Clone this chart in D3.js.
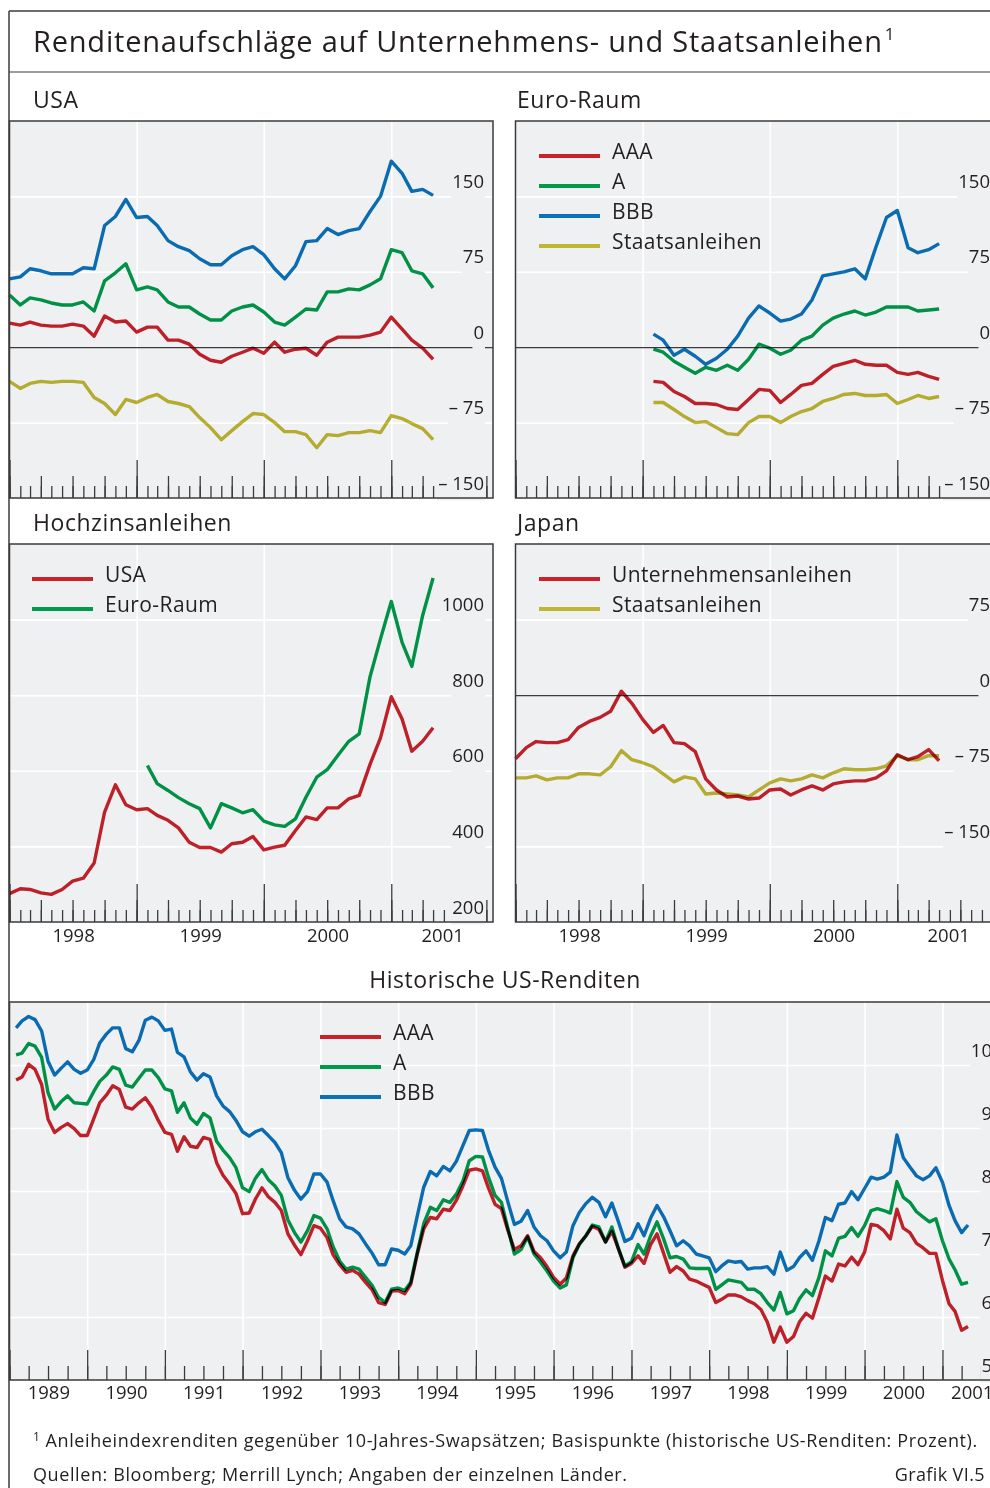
<!DOCTYPE html>
<html><head><meta charset="utf-8">
<script src="https://cdn.jsdelivr.net/npm/d3@7"></script>
<style>
body{margin:0;background:#fff;}
svg{display:block;}
text{font-family:"Open Sans","Noto Sans",sans-serif;fill:#231f20;}
</style></head><body>
<svg id="c" width="990" height="1488"></svg>
<script>
// ---------------- DATA ----------------
// Top panels: monthly, Jan 1998 – May 2001 (basis points)
const usaAAA = [24,22,25,22,21,21,23,21,11,31,25,26,15,20,20,7,7,3,-7,-13,-15,-9,-5,-1,-6,5,-5,-2,-1,-8,5,10,10,10,12,15,30,18,7,-1,-12];
const usaA   = [52,42,49,47,44,42,42,45,36,66,74,83,57,60,57,45,40,40,33,27,27,36,40,42,35,25,22,30,38,37,55,55,58,57,62,68,97,94,76,73,59];
const usaBBB = [68,70,78,76,73,73,73,79,78,121,130,147,129,130,121,106,100,96,88,82,82,91,97,100,92,78,68,81,105,106,118,112,116,118,135,150,185,173,155,157,151];
const usaGov = [-34,-41,-36,-34,-35,-34,-34,-35,-50,-56,-67,-52,-55,-50,-47,-54,-56,-59,-70,-80,-92,-83,-74,-66,-67,-75,-84,-84,-87,-100,-87,-88,-85,-85,-83,-85,-68,-71,-76,-81,-92];
// Euro area: Feb 1999 – May 2001
const euroAAA = [-34,-35,-44,-49,-56,-56,-57,-61,-62,-52,-42,-43,-55,-47,-38,-36,-27,-19,-16,-13,-17,-18,-18,-25,-27,-25,-29,-32];
const euroA   = [-2,-5,-14,-20,-26,-20,-23,-18,-23,-12,3,-1,-7,-3,7,11,22,29,33,36,32,35,40,40,40,36,37,38];
const euroBBB = [13,7,-8,-2,-9,-17,-11,-2,11,29,41,34,26,28,33,47,71,73,75,78,68,100,129,136,99,94,97,103];
const euroGov = [-55,-55,-62,-69,-75,-74,-80,-86,-87,-75,-69,-69,-75,-69,-64,-61,-54,-51,-47,-46,-48,-48,-47,-56,-52,-48,-51,-49];
// High yield: USA Jan 1998 – May 2001, Euro area Feb 1999 – May 2001
const hyUSA  = [275,288,286,277,273,286,308,316,356,491,563,510,497,500,482,469,449,411,397,397,385,407,411,426,391,398,403,442,478,471,502,502,526,535,617,687,796,737,652,678,714];
const hyEuro = [614,566,548,529,513,500,449,513,502,489,497,467,457,453,473,530,583,603,641,678,698,849,949,1048,940,876,1011,1110];
// Japan: Jan 1998 – May 2001
const jpCorp = [-63,-52,-46,-47,-47,-44,-32,-26,-22,-16,4,-8,-24,-37,-30,-47,-48,-56,-83,-94,-101,-100,-103,-102,-94,-93,-99,-94,-90,-94,-88,-86,-85,-85,-82,-75,-59,-64,-61,-54,-65];
const jpGov  = [-82,-82,-80,-84,-82,-82,-78,-78,-79,-71,-55,-64,-67,-71,-78,-86,-81,-83,-98,-97,-98,-99,-101,-94,-87,-83,-85,-83,-79,-82,-77,-73,-74,-74,-73,-70,-60,-64,-64,-60,-60];
// Historical US yields (percent), monthly Feb 1989 – May 2001
const histAAA = [9.76,9.81,10.01,9.93,9.69,9.14,8.93,9.01,9.07,8.99,8.88,
 8.88,9.15,9.40,9.52,9.67,9.61,9.33,9.30,9.40,9.48,9.33,9.12,
 8.93,8.90,8.63,8.86,8.71,8.69,8.85,8.82,8.45,8.25,8.11,7.96,
 7.64,7.65,7.87,8.05,7.91,7.82,7.69,7.32,7.14,6.99,7.21,7.45,
 7.41,7.26,6.99,6.83,6.71,6.74,6.68,6.55,6.43,6.23,6.20,6.41,
 6.42,6.37,6.52,7.00,7.40,7.58,7.56,7.71,7.69,7.85,8.08,8.33,
 8.35,8.32,8.05,7.79,7.72,7.37,7.07,7.13,7.29,7.04,6.94,6.80,
 6.63,6.52,6.62,6.97,7.16,7.29,7.44,7.39,7.19,7.36,7.08,6.79,
 6.85,6.97,6.85,7.15,7.32,7.01,6.71,6.80,6.73,6.60,6.57,6.52,
 6.47,6.23,6.28,6.35,6.35,6.32,6.26,6.21,6.12,5.92,5.60,5.84,
 5.60,5.69,5.92,6.06,5.98,6.31,6.65,6.57,6.84,6.81,6.95,6.83,
 7.03,7.47,7.45,7.37,7.24,7.71,7.41,7.34,7.17,7.10,7.01,7.01,
 6.58,6.21,6.09,5.79,5.85];
const histA = [10.16,10.19,10.34,10.30,10.12,9.56,9.30,9.42,9.51,9.40,9.39,
 9.38,9.58,9.74,9.84,9.97,9.93,9.68,9.65,9.79,9.92,9.92,9.80,
 9.62,9.59,9.25,9.40,9.16,9.06,9.23,9.16,8.79,8.65,8.53,8.37,
 8.05,7.99,8.20,8.34,8.18,8.08,7.93,7.54,7.34,7.19,7.37,7.61,
 7.57,7.40,7.12,6.89,6.76,6.79,6.76,6.63,6.50,6.31,6.23,6.44,
 6.46,6.42,6.55,7.03,7.48,7.74,7.69,7.86,7.82,7.95,8.16,8.48,
 8.55,8.54,8.22,7.93,7.82,7.40,7.00,7.07,7.27,7.00,6.87,6.73,
 6.57,6.46,6.51,6.94,7.15,7.29,7.46,7.43,7.19,7.43,7.08,6.81,
 6.88,7.15,7.00,7.29,7.51,7.24,6.94,6.96,6.92,6.78,6.77,6.77,
 6.77,6.44,6.51,6.59,6.57,6.55,6.44,6.44,6.37,6.23,6.11,6.39,
 6.05,6.10,6.29,6.43,6.34,6.63,7.05,6.97,7.25,7.28,7.42,7.28,
 7.45,7.69,7.72,7.69,7.65,8.15,7.90,7.82,7.67,7.59,7.51,7.56,
 7.21,6.92,6.75,6.52,6.55];
const histBBB = [10.59,10.70,10.77,10.72,10.54,10.06,9.84,9.95,10.05,9.93,9.87,
 9.92,10.09,10.35,10.49,10.59,10.59,10.26,10.21,10.39,10.71,10.76,10.70,
 10.55,10.57,10.20,10.13,9.89,9.76,9.86,9.81,9.51,9.35,9.26,9.12,
 8.94,8.87,8.94,8.98,8.88,8.77,8.61,8.21,8.01,7.87,7.99,8.27,
 8.27,8.14,7.85,7.56,7.43,7.40,7.32,7.16,7.01,6.83,6.83,7.08,
 7.06,7.00,7.13,7.61,8.06,8.31,8.24,8.39,8.32,8.47,8.72,8.96,
 8.97,8.96,8.65,8.38,8.20,7.82,7.47,7.52,7.69,7.43,7.29,7.21,
 7.05,6.94,7.03,7.45,7.66,7.80,7.90,7.82,7.59,7.81,7.51,7.20,
 7.25,7.48,7.29,7.57,7.77,7.59,7.37,7.13,7.21,7.13,7.00,6.97,
 6.94,6.72,6.81,6.89,6.87,6.88,6.76,6.78,6.78,6.80,6.68,7.03,
 6.74,6.80,6.94,7.05,6.90,7.21,7.58,7.53,7.79,7.81,7.99,7.86,
 8.04,8.22,8.19,8.22,8.30,8.89,8.53,8.38,8.24,8.18,8.24,8.37,
 8.14,7.77,7.53,7.34,7.46];

// tick values / labels
const spreadGrid = [-75, 0, 75, 150];
const spreadLabels = [-150, -75, 0, 75, 150];
const japanGrid = [-150, -75, 0, 75];
const japanLabels = [-150, -75, 0, 75];
const hyGrid = [400, 600, 800, 1000];
const hyLabels = [200, 400, 600, 800, 1000];
const histGrid = [6, 7, 8, 9, 10];
const histLabels = [5, 6, 7, 8, 9, 10];

const euroLegend = ["AAA", "A", "BBB", "Staatsanleihen"];
const hyLegend = ["USA", "Euro-Raum"];
const jpLegend = ["Unternehmensanleihen", "Staatsanleihen"];
const histLegend = ["AAA", "A", "BBB"];

// ---------------- STYLE ----------------
const C = {red:"#c9222b", green:"#009a4a", blue:"#0b72ba", yellow:"#bfb733",
           bg:"#eff0f2", dark:"#3b3b3d", text:"#231f20"};

const svg = d3.select("#c");
const months = (y, m, n) => d3.range(n).map(i => new Date(y, m + i, 1));
const fmtSpread = v => v < 0 ? "\u2013 " + Math.abs(v) : String(v);

// page frame
svg.append("line").attr("x1",9).attr("x2",9).attr("y1",11).attr("y2",1488).attr("stroke",C.dark).attr("stroke-width",1.5);
svg.append("line").attr("x1",9).attr("x2",990).attr("y1",11).attr("y2",11).attr("stroke",C.dark).attr("stroke-width",1.5);
svg.append("line").attr("x1",9).attr("x2",990).attr("y1",72).attr("y2",72).attr("stroke",C.dark).attr("stroke-width",1.2);

const title = svg.append("text").attr("x",33).attr("y",52).attr("font-size",29).attr("letter-spacing",0.8);
title.append("tspan").text("Renditenaufschläge auf Unternehmens- und Staatsanleihen");
title.append("tspan").attr("font-size",17).attr("dy",-12).attr("dx",2).text("1");

function panelTitle(t, x, y, anchor) {
  svg.append("text").attr("x",x).attr("y",y).attr("font-size",23).attr("letter-spacing",0.55)
    .attr("text-anchor",anchor||"start").text(t);
}
panelTitle("USA", 33, 108);
panelTitle("Euro-Raum", 517, 108);
panelTitle("Hochzinsanleihen", 33, 531);
panelTitle("Japan", 517, 531);
panelTitle("Historische US-Renditen", 505, 988, "middle");

function panel(o) {
  const g = svg.append("g");
  const x = d3.scaleTime().domain(o.xDomain).range([o.x0, o.x1]);
  const y = d3.scaleLinear().domain(o.yDomain).range([o.y1, o.y0]);
  const w = o.x1 - o.x0, h = o.y1 - o.y0;
  g.append("rect").attr("x",o.x0).attr("y",o.y0).attr("width",w).attr("height",h).attr("fill",C.bg);

  // horizontal white grid
  const gh = g.append("g").attr("transform",`translate(${o.x0},0)`)
    .call(d3.axisRight(y).tickValues(o.grid.filter(v => v !== 0)).tickSize(w).tickFormat(""));
  gh.select(".domain").remove();
  gh.selectAll("line").attr("stroke","#fff").attr("stroke-width",1.6);

  // vertical white grid at year boundaries
  const yrs = d3.timeYear.range(d3.timeYear.ceil(new Date(+o.xDomain[0] + 1)), o.xDomain[1]);
  const gv = g.append("g").attr("transform",`translate(0,${o.y1})`)
    .call(d3.axisBottom(x).tickValues(yrs).tickSize(-h).tickFormat(""));
  gv.select(".domain").remove();
  gv.selectAll("line").attr("stroke","#fff").attr("stroke-width",1.6);

  // zero line
  if (o.grid.includes(0)) {
    const gz = g.append("g").attr("transform",`translate(${o.x0},0)`)
      .call(d3.axisRight(y).tickValues([0]).tickSize(w).tickFormat(""));
    gz.select(".domain").remove();
    gz.selectAll("line").attr("stroke",C.dark).attr("stroke-width",1.3);
  }

  // ticks from the bottom upwards
  o.tickLevels.forEach(t => {
    const gt = g.append("g").attr("transform",`translate(0,${o.y1})`)
      .call(d3.axisBottom(x).ticks(t.every).tickSize(-t.size).tickFormat(""));
    gt.select(".domain").remove();
    gt.selectAll("line").attr("stroke",C.dark).attr("stroke-width",1.3);
  });

  // series
  const line = d3.line().x(d => x(d.date)).y(d => y(d.value));
  o.series.forEach(s => {
    const pts = s.values.map((v, i) => ({date: s.dates[i], value: v}));
    g.append("path").datum(pts).attr("d", line).attr("fill","none")
      .attr("stroke", s.color).attr("stroke-width",3.4)
      .attr("stroke-linejoin","round").style("mix-blend-mode","multiply");
  });

  // y labels (inside, right aligned, above grid line)
  const gl = g.append("g").attr("transform",`translate(${o.x0},0)`)
    .call(d3.axisRight(y).tickValues(o.labels).tickSize(0).tickFormat(o.fmt));
  gl.select(".domain").remove();
  gl.selectAll("text").attr("x", w - 9).attr("y",-9).attr("dy",0)
    .attr("text-anchor","end").attr("font-size",18.5).attr("font-family",null).attr("fill",C.text);
  gl.selectAll(".tick").each(function() {
    const t = d3.select(this).select("text");
    const b = t.node().getBBox();
    d3.select(this).insert("rect","text").attr("x",b.x-1).attr("y",b.y+3).attr("width",b.width+2)
      .attr("height",b.height+3).attr("fill",C.bg);
  });

  // year labels
  if (o.yearLabels) {
    const all = d3.timeYear.range(d3.timeYear.floor(o.xDomain[0]), o.xDomain[1]);
    const mids = all.map(d => new Date((+d + Math.min(+d3.timeYear.offset(d,1), +o.xDomain[1])) / 2));
    const ga = g.append("g").attr("transform",`translate(0,${o.y1})`)
      .call(d3.axisBottom(x).tickValues(mids).tickSize(0).tickFormat(d => d.getFullYear()));
    ga.select(".domain").remove();
    ga.selectAll("text").attr("y", o.yearLabelY).attr("dy",0).attr("font-size",18.5)
      .attr("font-family",null).attr("fill",C.text);
  }

  // legend
  if (o.legend) {
    o.legend.names.forEach((n, i) => {
      const ly = o.legend.y + i * 30;
      g.append("line").attr("x1",o.legend.x).attr("x2",o.legend.x + 61).attr("y1",ly).attr("y2",ly)
        .attr("stroke", o.series[o.legend.order[i]].color).attr("stroke-width",4.2);
      g.append("text").attr("x",o.legend.x + 73).attr("y",ly + 3.3).attr("font-size",21)
        .attr("letter-spacing",0.4).text(n);
    });
  }

  g.append("rect").attr("x",o.x0).attr("y",o.y0).attr("width",w).attr("height",h)
    .attr("fill","none").attr("stroke",C.dark).attr("stroke-width",1.5);
}

const topX = [new Date(1998,0,1), new Date(2001,9,20)];
const topTicks = [{every:d3.timeMonth, size:12},{every:d3.timeMonth.every(3), size:22},{every:d3.timeYear, size:38}];
const d98 = months(1998,0,41), d99 = months(1999,1,28);

panel({x0:9.5, x1:493, y0:121, y1:498, xDomain:topX, yDomain:[-150,225],
  grid:spreadGrid, labels:spreadLabels, fmt:fmtSpread, tickLevels:topTicks,
  series:[{dates:d98, values:usaGov, color:C.yellow},{dates:d98, values:usaAAA, color:C.red},
          {dates:d98, values:usaA, color:C.green},{dates:d98, values:usaBBB, color:C.blue}]});

panel({x0:515.5, x1:999, y0:121, y1:498, xDomain:topX, yDomain:[-150,225],
  grid:spreadGrid, labels:spreadLabels, fmt:fmtSpread, tickLevels:topTicks,
  series:[{dates:d99, values:euroGov, color:C.yellow},{dates:d99, values:euroAAA, color:C.red},
          {dates:d99, values:euroA, color:C.green},{dates:d99, values:euroBBB, color:C.blue}],
  legend:{names:euroLegend, order:[1,2,3,0], x:539, y:156}});

panel({x0:9.5, x1:493, y0:544, y1:922, xDomain:topX, yDomain:[200,1200],
  grid:hyGrid, labels:hyLabels, fmt:d => String(d), tickLevels:topTicks, yearLabels:true, yearLabelY:20,
  series:[{dates:d98, values:hyUSA, color:C.red},{dates:d99, values:hyEuro, color:C.green}],
  legend:{names:hyLegend, order:[0,1], x:32, y:579}});

panel({x0:515.5, x1:999, y0:544, y1:922, xDomain:topX, yDomain:[-225,150],
  grid:japanGrid, labels:japanLabels, fmt:fmtSpread, tickLevels:topTicks, yearLabels:true, yearLabelY:20,
  series:[{dates:d98, values:jpGov, color:C.yellow},{dates:d98, values:jpCorp, color:C.red}],
  legend:{names:jpLegend, order:[1,0], x:539, y:579}});

const dh = months(1989,1,148);
panel({x0:9.5, x1:1001, y0:1002, y1:1380, xDomain:[new Date(1989,0,1), new Date(2001,9,3)], yDomain:[5,11],
  grid:histGrid, labels:histLabels, fmt:d => String(d),
  tickLevels:[{every:d3.timeMonth.every(3), size:14},{every:d3.timeYear, size:30}],
  yearLabels:true, yearLabelY:19,
  series:[{dates:dh, values:histAAA, color:C.red},{dates:dh, values:histA, color:C.green},{dates:dh, values:histBBB, color:C.blue}],
  legend:{names:histLegend, order:[0,1,2], x:320, y:1037}});

// footnotes
const f1 = svg.append("text").attr("x",33).attr("y",1447).attr("font-size",18).attr("letter-spacing",0.62);
f1.append("tspan").attr("font-size",12).attr("dy",-6).text("1");
f1.append("tspan").attr("dy",6).attr("dx",5).text("Anleiheindexrenditen gegenüber 10-Jahres-Swapsätzen; Basispunkte (historische US-Renditen: Prozent).");
svg.append("text").attr("x",33).attr("y",1481).attr("font-size",18).attr("letter-spacing",0.6).text("Quellen: Bloomberg; Merrill Lynch; Angaben der einzelnen Länder.");
svg.append("text").attr("x",985).attr("y",1481).attr("font-size",18).attr("letter-spacing",0.4).attr("text-anchor","end").text("Grafik VI.5");
</script>
</body></html>
